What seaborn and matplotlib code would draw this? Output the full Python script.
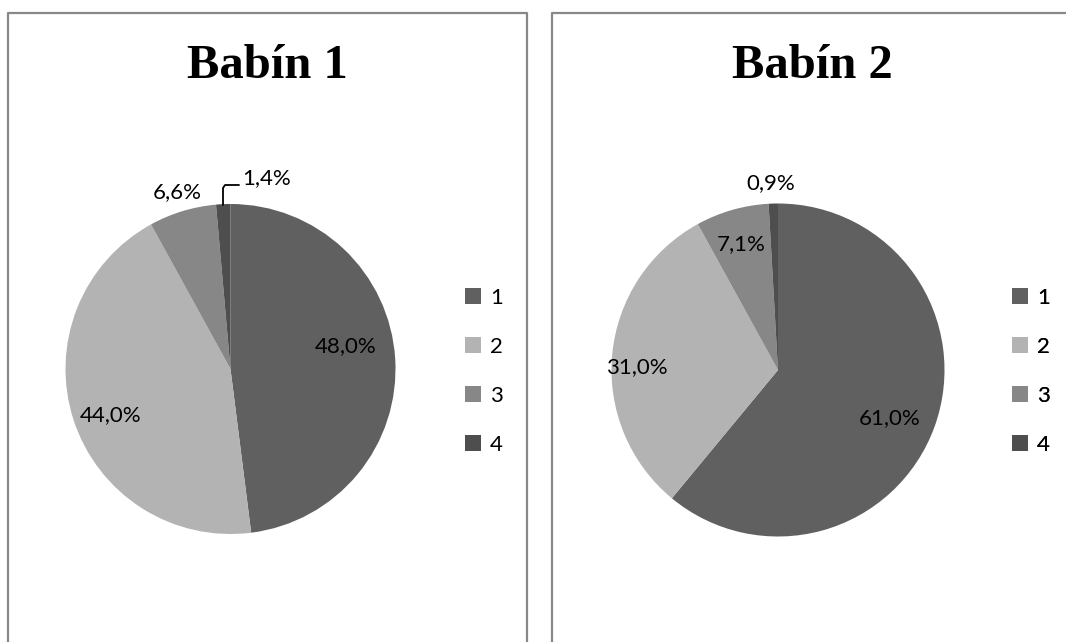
import numpy as np
import matplotlib
matplotlib.use("Agg")
import matplotlib.pyplot as plt
from matplotlib.patches import Patch
import seaborn as sns

sns.set_style("white")
plt.rcParams['font.family'] = ['Lato', 'DejaVu Sans']
plt.rcParams['text.color'] = 'black'

# data
categories = ['1', '2', '3', '4']
babin1 = [48.0, 44.0, 6.6, 1.4]
babin2 = [61.0, 31.0, 7.1, 0.9]
titles = ['Babín 1', 'Babín 2']
colors = ['#606060', '#b3b3b3', '#878787', '#4e4e4e']

W, H = 1066, 642
fig = plt.figure(figsize=(W / 100, H / 100), dpi=100)
ax = fig.add_axes([0, 0, 1, 1])

# pies drawn in pixel-like data coords (y down)
pies = [
    dict(vals=babin1, center=(230.5, 369), r=165, title_x=267,
         lab=[(346, 346), (111, 415), (177, 192), (267, 178)], leg_x=465),
    dict(vals=babin2, center=(778, 370), r=166.5, title_x=812,
         lab=[(890, 418), (637, 367), (741, 244), (771, 183)], leg_x=1012),
]

for i, p in enumerate(pies):
    wedges, _ = ax.pie(p['vals'], colors=colors, startangle=-90, counterclock=True,
                       center=p['center'], radius=p['r'], frame=True,
                       wedgeprops=dict(linewidth=0))
    for v, (tx, ty) in zip(p['vals'], p['lab']):
        ax.text(tx, ty, f"{v:.1f}%".replace('.', ','), ha='center', va='center',
                fontsize=16, color='black')
    ax.text(p['title_x'], 66, titles[i], ha='center', va='center', color='black',
            fontsize=35, fontweight='bold', family='Liberation Serif')
    handles = [Patch(facecolor=c, edgecolor='none') for c in colors]
    ax.legend(handles, categories, loc='upper left',
              bbox_to_anchor=(p['leg_x'], 288), bbox_transform=ax.transData,
              frameon=False, fontsize=16, handlelength=0.72, handleheight=0.72,
              handletextpad=0.4, labelspacing=1.3, borderpad=0, borderaxespad=0,
              labelcolor='black')
    ax.add_artist(ax.get_legend())

# leader line for the small 1,4% slice
ax.plot([223, 223, 225, 239], [205, 188, 185, 185], color='black', lw=1.3,
        solid_joinstyle='round')

# panel borders
ax.plot([8, 8, 527, 527], [H + 5, 12.5, 12.5, H + 5], color='#888888', lw=1.6)
ax.plot([552, 552, W + 10], [H + 5, 13, 13], color='#888888', lw=1.6)

ax.set_xlim(0, W)
ax.set_ylim(H, 0)
ax.set_axis_off()

fig.savefig('out.png', dpi=100)
